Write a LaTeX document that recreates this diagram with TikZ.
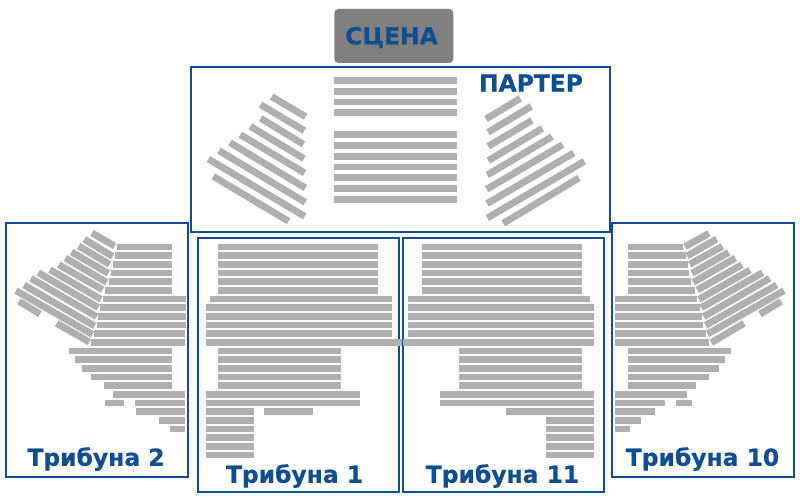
\documentclass[tikz,border=0pt]{standalone}
\usepackage{fontspec}
\setmainfont{DejaVu Sans}[BoldFont={DejaVu Sans Bold},BoldFeatures={FakeBold=0.6}]
\definecolor{seatgray}{HTML}{B0B0B0}
\definecolor{boxblue}{HTML}{104E8F}
\definecolor{stagegray}{HTML}{808080}
\tikzset{
  seat/.style={draw=seatgray,line width=6.9pt,line cap=butt},
  zone/.style={draw=boxblue,line width=2pt,fill=none},
  label/.style={text=boxblue,font=\bfseries\fontsize{#1}{#1}\selectfont,inner sep=0pt,anchor=center},
}
\newcommand{\rows}[1]{\foreach \a/\b/\r in {#1}{\draw[seat] (\a,\r*26+81) -- (\b,\r*26+81);}}
\newcommand{\slants}[1]{\foreach \a/\b/\c/\d in {#1}{\draw[seat] (\a,\b) -- (\c,\d);}}
\begin{document}
\begin{tikzpicture}[x=1pt,y=-1pt]
\useasboundingbox (0,0) rectangle (800,500);
\fill[white] (0,0) rectangle (800,500);
% frames
\draw[zone] (191,67) rectangle (609.5,232);
\draw[zone] (6,223) rectangle (188,477);
\draw[zone] (198,238) rectangle (399,492);
\draw[zone] (402.5,238) rectangle (603.5,492);
\draw[zone] (612,223) rectangle (794,477);
% stage
\fill[stagegray,rounded corners=4pt] (334.3,9) rectangle (453.3,63);
\node[label=23.4] (stage) at (391.5,37.5) {СЦЕНА};
\node[label=23.4] (parter) at (531,83) {ПАРТЕР};
\node[label=23.4] (t2) at (96,459) {Трибуна 2};
\node[label=23.4] (t1) at (294.5,476) {Трибуна 1};
\node[label=23.4] (t11) at (502.5,476) {Трибуна 11};
\node[label=23.4] (t10) at (702.5,459) {Трибуна 10};
% Parter
\begin{scope}[shift={(190,0)},x=0.3333pt,y=-0.3333pt]
\foreach \y in {241,274,306,338,404,437,469,501,533,566,598}{\draw[seat] (432,\y) -- (802,\y);}
\slants{245/290/347/350,212/314/343/392,212/355/340/433,181/379/342/476,151/404/344/519,120/428/346/564,87/452/346/607,55/477/344/649,70/529/296/664}
\end{scope}
\begin{scope}[shift={(400,0)},x=0.3333pt,y=-0.3333pt]
\slants{258/357/361/295,264/397/394/319,265/439/396/361,265/482/427/385,262/525/456/410,260/568/488/434,261/611/521/459,262/654/553/484,310/670/537/534}
\end{scope}
% Tribuna 2
\begin{scope}[shift={(0,220)},x=0.3333pt,y=-0.3333pt]
\rows{352/516/0,345/516/1,338/516/2,332/516/3,326/516/4,316/516/5,309/557/6,301/557/7,294/557/8,291/557/9,282/556/10,274/555/11,208/516/12,226/516/13,245/516/14,274/516/15,313/516/16,339/555/17,316/371/18,405/555/18,407/555/19,477/555/20,510/555/21}
\slants{276/39/344/78,253/58/338/109,236/78/329/133,215/96/325/160,196/114/320/187,176/134/308/209,150/149/303/238,115/158/295/263,93/175/290/290,72/195/284/318,48/212/277/343,170/310/268/366,57/244/120/282}
\end{scope}
% Tribuna 1
\begin{scope}[shift={(195,237.33)},x=0.3333pt,y=-0.3333pt]
\rows{68/549/-2,68/549/-1,68/549/0,68/549/1,68/549/2,68/549/3,45/590/4,33/590/5,33/590/6,33/590/7,33/590/8,33/622/9,69/437/10,69/437/11,69/437/12,69/437/13,69/437/14,33/495/15,33/495/16,33/177/17,207/354/17,33/177/18,33/177/19,33/177/20,33/177/21,33/177/22}
\end{scope}
% Tribuna 11
\begin{scope}[shift={(400,237.33)},x=0.3333pt,y=-0.3333pt]
\rows{66/547/-2,66/547/-1,66/547/0,66/547/1,66/547/2,66/547/3,25/570/4,25/581/5,25/581/6,25/581/7,25/581/8,8/581/9,178/546/10,178/546/11,178/546/12,178/546/13,178/546/14,120/581/15,120/581/16,319/581/17,438/581/18,438/581/19,438/581/20,438/581/21,438/581/22}
\end{scope}
% Tribuna 10
\begin{scope}[shift={(600,220)},x=0.3333pt,y=-0.3333pt]
\rows{84/248/0,85/257/1,85/263/2,85/268/3,85/274/4,85/285/5,44/292/6,44/300/7,44/306/8,44/309/9,44/318/10,45/327/11,84/393/12,84/374/13,84/356/14,84/327/15,84/287/16,45/261/17,45/195/18,229/276/18,45/165/19,45/123/20,45/90/21}
\slants{255/80/327/40,261/108/350/57,269/133/367/79,276/160/386/97,280/187/406/114,292/210/426/134,297/238/450/150,304/263/488/158,311/290/509/175,317/316/530/195,323/342/552/212,334/368/432/310,480/282/544/244}
\end{scope}
\end{tikzpicture}
\end{document}
